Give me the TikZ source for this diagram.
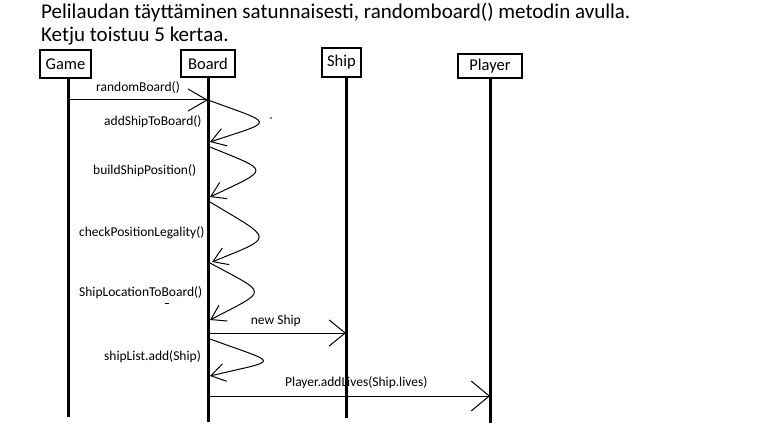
\documentclass[tikz,border=0pt]{standalone}
\usepackage{fontspec}
\setmainfont{Carlito}
\usetikzlibrary{arrows.meta}
\tikzset{
  obj/.style={draw=black,line width=1.3pt,fill=white,inner sep=0pt,font=\fontsize{16.5}{19}\selectfont},
  life/.style={line width=3pt},
  msg/.style={line width=1pt},
  lbl/.style={inner sep=0pt,anchor=base west,font=\fontsize{13.5}{16}\selectfont},
  title/.style={inner sep=0pt,anchor=base west,font=\fontsize{21}{25}\selectfont},
  selfarrow/.style={-{Straight Barb[length=14pt,width=18pt]}},
}

\begin{document}
\begin{tikzpicture}[x=1pt,y=-1pt]
\useasboundingbox (0,0) rectangle (780,444);
% title
\node[title] (head1) at (41,18.3) {Pelilaudan täyttäminen satunnaisesti, randomboard() metodin avulla.};
\node[title] (head2) at (41,41.7) {Ketju toistuu 5 kertaa.};
% objects
\node[obj,minimum width=51pt,minimum height=28pt] (game) at (65.5,64) {Game};
\node[obj,minimum width=54pt,minimum height=27pt] (board) at (208,63.5) {Board};
\node[obj,minimum width=39pt,minimum height=29pt] (ship) at (341.5,62.5) {Ship};
\node[obj,minimum width=64pt,minimum height=24pt] (player) at (490,66) {Player};
% message labels
\node[lbl] (l1) at (96,91.7) {randomBoard()};
\node[lbl] (l2) at (104,125) {addShipToBoard()};
\node[lbl] (l3) at (93,175) {buildShipPosition()};
\node[lbl] (l4) at (79,236) {checkPositionLegality()};
\node[lbl] (l5) at (79,296) {ShipLocationToBoard()};
\node[lbl] (l6) at (250.7,324) {new Ship};
\node[lbl] (l7) at (104,360) {shipList.add(Ship)};
\node[lbl] (l8) at (285,386) {Player.addLives(Ship.lives)};
% lifelines
\coordinate (gameEnd) at (68,417);
\coordinate (boardEnd) at (208,422);
\coordinate (shipEnd) at (346,418);
\coordinate (playerEnd) at (490,423);
\draw[life] (game.south -| gameEnd) -- (gameEnd);
\draw[life] (board.south -| boardEnd) -- (boardEnd);
\draw[life] (ship.south -| shipEnd) -- (shipEnd);
\draw[life] (player.south -| playerEnd) -- (playerEnd);
% points on the lifelines
\coordinate (g1) at (68,100);
\coordinate (b1) at (208,100);
\coordinate (b2) at (210,142);
\coordinate (b3) at (210,147);
\coordinate (b4) at (210,197);
\coordinate (b5) at (210,202);
\coordinate (b6) at (212,262);
\coordinate (b7) at (210,263);
\coordinate (b8) at (210,320);
\coordinate (b9) at (208,333);
\coordinate (b10) at (210,339);
\coordinate (b11) at (210,376);
\coordinate (b12) at (208,396);
\coordinate (s1) at (346,333);
\coordinate (p1) at (490,396);
% messages
\draw[msg,-{Straight Barb[length=19pt,width=22pt]}] (g1) -- (b1);
\draw[msg,selfarrow] (b1) .. controls (276,125) and (276,120) .. (b2);
\draw[msg,selfarrow] (b3) .. controls (271,172) and (271,168) .. (b4);
\draw[msg,selfarrow] (b5) .. controls (275,241) and (275,236) .. (b6);
\draw[msg,selfarrow] (b7) .. controls (269,295) and (269,289) .. (b8);
\draw[msg,-{Straight Barb[length=16pt,width=26pt]}] (b9) -- (s1);
\draw[msg,selfarrow] (b10) .. controls (281,365) and (281,359) .. (b11);
\draw[msg,-{Straight Barb[length=18pt,width=30pt]}] (b12) -- (p1);
% stray marks
\fill (271,118) circle (0.8);
\draw[line width=0.8pt] (165,303) -- (169,303);
\end{tikzpicture}
\end{document}
